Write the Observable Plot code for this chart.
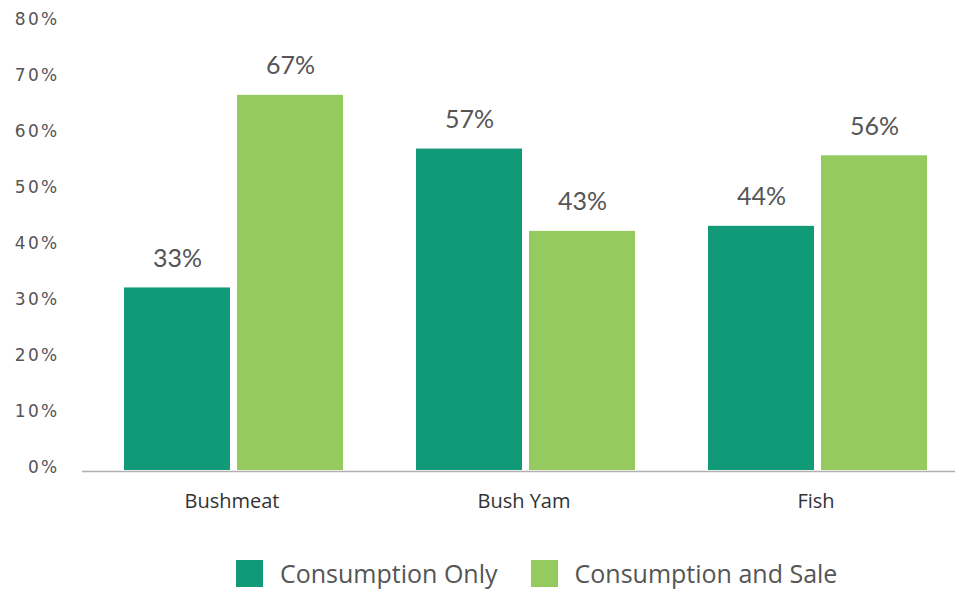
<!DOCTYPE html>
<html>
<head>
<meta charset="utf-8">
<script src="https://cdn.jsdelivr.net/npm/d3@7"></script>
<script src="https://cdn.jsdelivr.net/npm/@observablehq/plot@0.6"></script>
<style>
  body { margin: 0; background: #fff; width: 955px; height: 589px; overflow: hidden; }
  #chart svg { display: block; }
  #chart g[aria-label="y-axis tick label"] text { letter-spacing: 2.3px; }
  #legend { display: flex; align-items: center; padding-left: 236px; margin-top: 29px; height: 28px;
            font-family: "Open Sans", sans-serif; font-size: 25px; line-height: 28px; color: #555; }
  .sw { width: 27px; height: 27px; margin-right: 17px; flex: none; }
  .item { display: flex; align-items: center; margin-right: 33px; }
</style>
</head>
<body>
<div id="chart"></div>
<div id="legend"></div>
<script>
const categories = ["Bushmeat", "Bush Yam", "Fish"];
const seriesNames = ["Consumption Only", "Consumption and Sale"];
const consumptionOnly = [32.6, 57.4, 43.6];
const consumptionAndSale = [67.0, 42.7, 56.2];
const yTicks = [0, 10, 20, 30, 40, 50, 60, 70, 80];
const colors = ["#119a78", "#95cb5e"];

const rowsOnly = categories.map((c, i) => ({category: c, series: seriesNames[0], value: consumptionOnly[i]}));
const rowsSale = categories.map((c, i) => ({category: c, series: seriesNames[1], value: consumptionAndSale[i]}));

const labelStyle = {fontFamily: "Lato, sans-serif", fontSize: 25, fill: "#555", lineAnchor: "bottom", dy: -21};

const chart = Plot.plot({
  width: 955,
  height: 530,
  marginLeft: 82,
  marginRight: 0,
  marginTop: 22,
  marginBottom: 60,
  x: {domain: categories, range: [123, 929], paddingInner: 0.249, paddingOuter: 0, label: null},
  y: {domain: [0, 80], label: null},
  marks: [
    Plot.barY(rowsOnly, {x: "category", y: "value", fill: colors[0], insetRight: 113, insetLeft: 0}),
    Plot.barY(rowsSale, {x: "category", y: "value", fill: colors[1], insetLeft: 113, insetRight: 0}),
    Plot.text(rowsOnly, {x: "category", y: "value", text: d => Math.round(d.value) + "%", dx: -56.5, ...labelStyle}),
    Plot.text(rowsSale, {x: "category", y: "value", text: d => Math.round(d.value) + "%", dx: 56.5, ...labelStyle}),
    Plot.ruleY([0], {stroke: "#b0b0b0", strokeWidth: 1.5, dy: 1}),
    Plot.axisY(yTicks, {tickSize: 0, tickPadding: 23, tickFormat: d => d + "%", fontSize: 17, fill: "#555",
      fontFamily: "DejaVu Sans, sans-serif", dy: -3, label: null}),
    Plot.axisX({tickSize: 0, tickPadding: 23, fontSize: 20, fill: "#333", fontFamily: "Open Sans, sans-serif", label: null, dx: -2})
  ]
});
chart.style.fontFamily = "Open Sans, sans-serif";
document.getElementById("chart").append(chart);

const legend = document.getElementById("legend");
seriesNames.forEach((name, i) => {
  const item = document.createElement("div");
  item.className = "item";
  const sw = document.createElement("div");
  sw.className = "sw";
  sw.style.background = colors[i];
  const t = document.createElement("span");
  t.textContent = name;
  item.append(sw, t);
  legend.append(item);
});
</script>
</body>
</html>
